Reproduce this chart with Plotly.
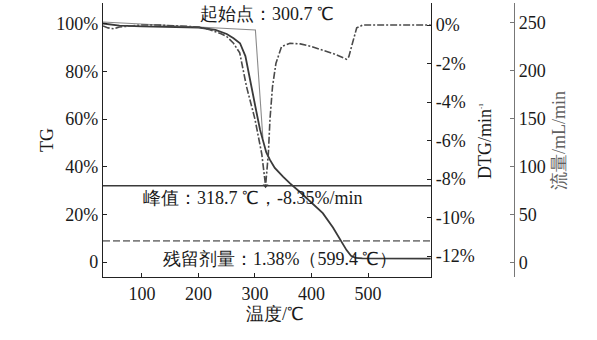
import plotly.graph_objects as go

# ---- thermogravimetric data ----
temp_tg = [31, 60, 100, 150, 200, 230, 250, 262, 273.5, 283, 291, 297, 303, 309, 315,
           320, 326.5, 335, 350, 362, 380, 400, 420, 438, 452, 462, 470, 478, 490, 520,
           560, 600, 611]
tg = [100.2, 99.3, 99.0, 98.9, 98.5, 97.5, 95.8, 94.0, 91.9, 86.5, 77.5, 70.0, 62.5, 55.5,
      50.0, 46.0, 42.9, 39.5, 35.8, 33.0, 29.3, 25.0, 20.5, 14.5, 9.0, 5.0, 2.6, 1.7, 1.5,
      1.42, 1.40, 1.38, 1.38]

temp_dtg = [31, 40, 50, 60, 80, 100, 128, 150, 200, 220, 240, 250, 262, 273, 285, 300, 312,
            318.7, 323.6, 326.5, 331, 337, 347, 362, 380, 400, 421, 440, 462, 466, 472, 480,
            491, 520, 560, 611]
dtg = [-0.05, -0.15, -0.2, -0.1, -0.05, 0.0, 0.0, -0.02, -0.1, -0.25, -0.45, -0.6, -0.95,
       -1.45, -3.2, -4.9, -6.7, -8.35, -6.7, -4.9, -3.2, -2.0, -1.12, -0.95, -0.98, -1.12,
       -1.3, -1.5, -1.78, -1.65, -1.0, -0.15, 0.0, 0.0, 0.0, 0.0]

# purge gas flow
flow_temp = [31, 611]
flow = [23, 23]

# characteristic values
onset_temp = 300.7
onset_tg = 97.5
tangent_base_start = [31, 100.8]
tangent_steep_end = [314, 52.0]
peak_temp = 318.7
peak_rate = -8.35
residue = 1.38
end_temp = 599.4

x_range = [31, 611.5]
x_ticks = [100, 200, 300, 400, 500]
tg_ticks = [0, 20, 40, 60, 80, 100]
tg_ticktext = ["0", "20%", "40%", "60%", "80%", "100%"]
dtg_ticks = [0, -2, -4, -6, -8, -10, -12]
dtg_ticktext = ["0%", "-2%", "-4%", "-6%", "-8%", "-10%", "-12%"]
flow_ticks = [0, 50, 100, 150, 200, 250]

W, H = 597, 340
SERIF = "Liberation Serif"
TEXT_FONT = dict(family=SERIF, size=18, color="#1a1a1a")

fig = go.Figure()

# onset tangent construction
fig.add_trace(go.Scatter(
    x=[tangent_base_start[0], onset_temp, tangent_steep_end[0]],
    y=[tangent_base_start[1], onset_tg, tangent_steep_end[1]],
    mode="lines", line=dict(color="#8a8a8a", width=1.1), yaxis="y", hoverinfo="skip"))

# TG curve
fig.add_trace(go.Scatter(x=temp_tg, y=tg, mode="lines",
                         line=dict(color="#3a3a3a", width=1.8), yaxis="y", name="TG"))

# DTG curve
fig.add_trace(go.Scatter(x=temp_dtg, y=dtg, mode="lines",
                         line=dict(color="#4a4a4a", width=1.6, dash="7px,2px,2px,2px"),
                         yaxis="y2", name="DTG"))

# peak rate reference line
fig.add_trace(go.Scatter(x=x_range, y=[peak_rate, peak_rate], mode="lines",
                         line=dict(color="#3a3a3a", width=1.6), yaxis="y2", hoverinfo="skip"))
fig.add_trace(go.Scatter(x=[peak_temp], y=[peak_rate], mode="markers",
                         marker=dict(symbol="triangle-down", size=5, color="#3a3a3a"),
                         yaxis="y2", hoverinfo="skip"))

# flow rate
fig.add_trace(go.Scatter(x=flow_temp, y=flow, mode="lines",
                         line=dict(color="#808080", width=1.6, dash="7px,3px"),
                         yaxis="y3", name="流量"))

ann = []
ann.append(dict(x=322, y=104.2, xref="x", yref="y", showarrow=False,
                text=f"起始点：{onset_temp} ℃", font=TEXT_FONT))
ann.append(dict(x=295.6, y=26.9, xref="x", yref="y", showarrow=False,
                text=f"峰值：{peak_temp} ℃，{peak_rate}%/min", font=TEXT_FONT))
ann.append(dict(x=346, y=1.26, xref="x", yref="y", showarrow=False,
                text=f"残留剂量：{residue}%（{end_temp} ℃）", font=TEXT_FONT))

# axis titles
ann.append(dict(x=35 / W, y=1 - 140 / H, xref="paper", yref="paper", showarrow=False,
                text="TG", textangle=-90, font=dict(family=SERIF, size=18, color="#1a1a1a")))
ann.append(dict(x=497 / W, y=1 - 141 / H, xref="paper", yref="paper", showarrow=False,
                text="DTG/min<sup><span style='font-size:7px'>-1</span></sup>", textangle=-90,
                font=dict(family=SERIF, size=18, color="#1a1a1a")))
ann.append(dict(x=571 / W, y=1 - 141 / H, xref="paper", yref="paper", showarrow=False,
                text="流量/mL/min", textangle=-90,
                font=dict(family=SERIF, size=18, color="#606060")))
ann.append(dict(x=275 / W, y=1 - 325 / H, xref="paper", yref="paper", showarrow=False,
                text="温度/℃", borderpad=0,
                font=dict(family=SERIF, size=18, color="#1a1a1a")))

tick_font = dict(family=SERIF, size=18, color="#1a1a1a")
axis_common = dict(showgrid=False, zeroline=False, showline=True, linewidth=1.2,
                   ticks="inside", ticklen=4, tickwidth=1.2, tickfont=tick_font)

y_dom = [(H - 277) / H, (H - 3) / H]

fig.update_layout(
    width=W, height=H, margin=dict(l=0, r=0, t=0, b=0),
    paper_bgcolor="white", plot_bgcolor="white", showlegend=False,
    font=dict(family=SERIF),
    annotations=ann,
    xaxis=dict(domain=[103 / W, 431 / W], range=x_range, tickvals=x_ticks,
               linecolor="#222222", tickcolor="#222222", **axis_common),
    yaxis=dict(domain=y_dom, range=[-6.3, 108.8], tickvals=tg_ticks, ticktext=tg_ticktext,
               linecolor="#222222", tickcolor="#222222", **axis_common),
    yaxis2=dict(overlaying="y", side="right", anchor="x", range=[-13.09, 1.143],
                tickvals=dtg_ticks, ticktext=dtg_ticktext,
                linecolor="#222222", tickcolor="#222222", **axis_common),
    yaxis3=dict(overlaying="y", side="right", anchor="free", position=514 / W,
                range=[-14.6, 270.8], tickvals=flow_ticks,
                linecolor="#777777", tickcolor="#777777", **axis_common),
)

fig.write_html("out.html")
